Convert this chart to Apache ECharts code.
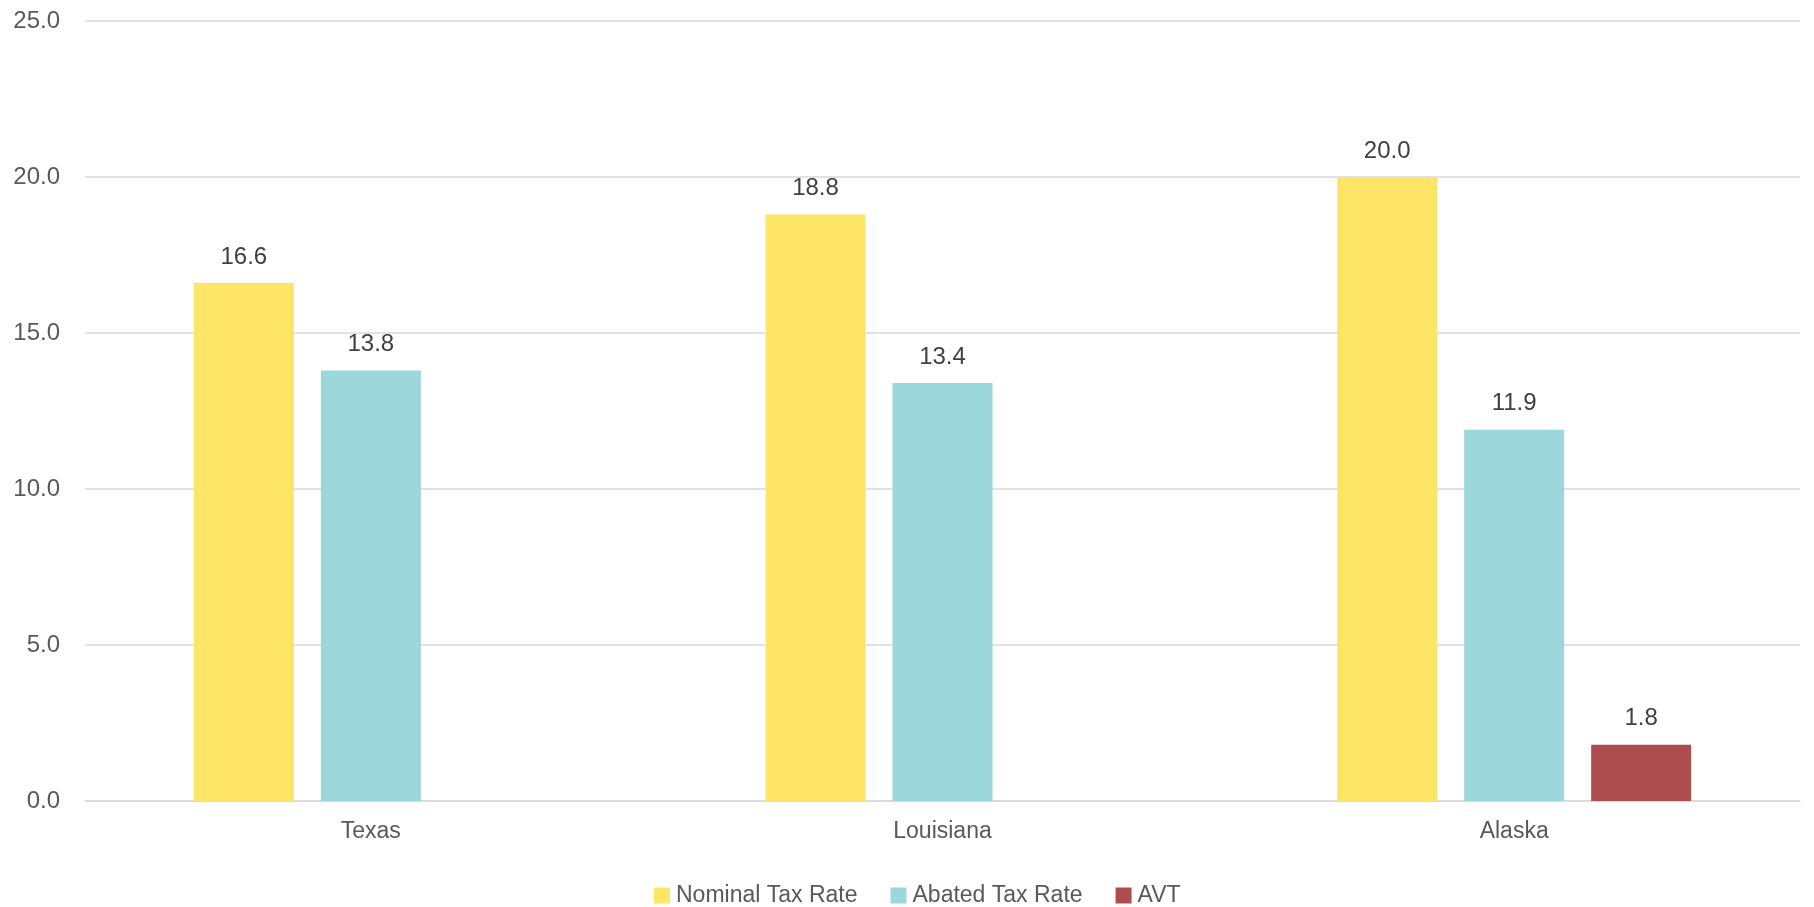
<!DOCTYPE html>
<html>
<head>
<meta charset="utf-8">
<script src="https://cdn.jsdelivr.net/npm/echarts@6/dist/echarts.min.js"></script>
<style>
html,body{margin:0;padding:0;background:#fff;}
#chart{width:1814px;height:907px;}
</style>
</head>
<body>
<div id="chart"></div>
<script>
const categories = ['Texas', 'Louisiana', 'Alaska'];
const nominalTaxRate = [16.6, 18.8, 20.0];
const abatedTaxRate = [13.8, 13.4, 11.9];
const avt = [null, null, 1.8];
const seriesNames = ['Nominal Tax Rate', 'Abated Tax Rate', 'AVT'];
const colors = ['#FFE566', '#9CD8DB', '#AC4E4E'];

const chart = echarts.init(document.getElementById('chart'), null, {renderer: 'canvas'});
const font = "'Liberation Sans', Arial, sans-serif";
const labelCfg = {
  show: true,
  position: 'top',
  distance: 14,
  color: '#404040',
  fontSize: 24,
  fontFamily: font,
  formatter: p => p.value == null ? '' : Number(p.value).toFixed(1)
};
const dataSets = [nominalTaxRate, abatedTaxRate, avt];
chart.setOption({
  animation: false,
  backgroundColor: '#ffffff',
  grid: {left: 85, right: 14, top: 21, bottom: 106, containLabel: false},
  legend: {
    left: 654,
    bottom: 0,
    padding: 0,
    itemWidth: 16,
    itemHeight: 16,
    itemGap: 33,
    icon: 'rect',
    textStyle: {color: '#595959', fontSize: 23, fontFamily: font, padding: [0, 0, 0, 1]},
    data: seriesNames
  },
  xAxis: {
    type: 'category',
    data: categories,
    axisLine: {show: true, lineStyle: {color: '#D9D9D9', width: 1.5}},
    axisTick: {show: false},
    axisLabel: {color: '#595959', fontSize: 23, fontFamily: font, margin: 19}
  },
  yAxis: {
    type: 'value',
    min: 0,
    max: 25,
    interval: 5,
    axisLine: {show: false},
    axisTick: {show: false},
    splitLine: {lineStyle: {color: '#D9D9D9', width: 1.5}},
    axisLabel: {color: '#595959', fontSize: 24, fontFamily: font, margin: 25,
      formatter: v => v.toFixed(1)}
  },
  series: seriesNames.map((name, i) => ({
    name: name,
    type: 'bar',
    data: dataSets[i],
    barWidth: 100,
    barGap: '27%',
    itemStyle: {color: colors[i]},
    label: labelCfg
  }))
});
</script>
</body>
</html>
